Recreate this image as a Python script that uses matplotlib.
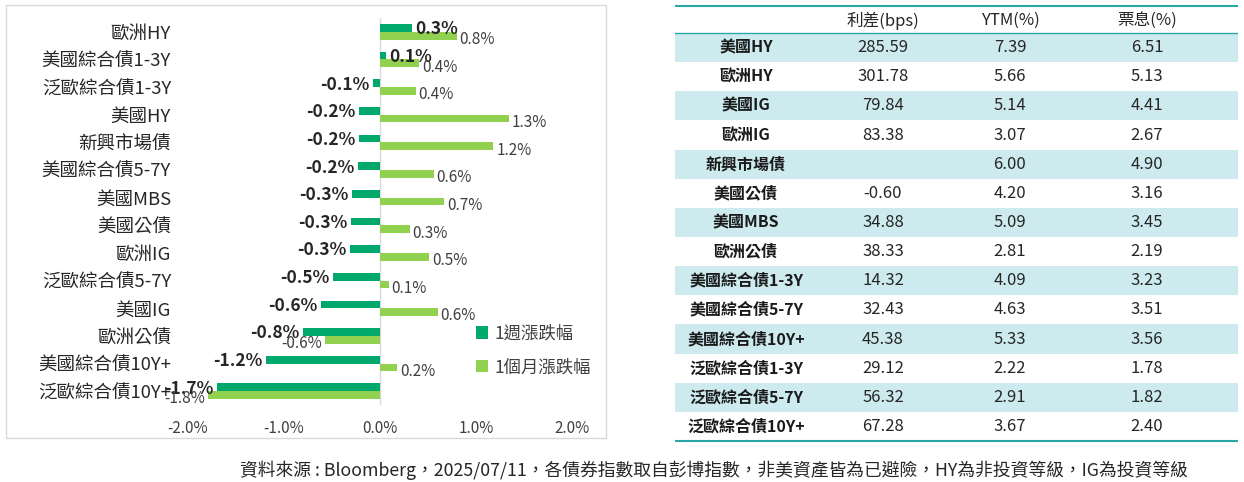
import matplotlib
matplotlib.use("Agg")
import matplotlib.pyplot as plt
from matplotlib.patches import Rectangle
from matplotlib.transforms import blended_transform_factory
import numpy as np

plt.rcParams['font.family'] = ['Noto Sans CJK TC', 'DejaVu Sans']

# ---------------- data ----------------
categories = ["歐洲HY", "美國綜合債1-3Y", "泛歐綜合債1-3Y", "美國HY", "新興市場債",
              "美國綜合債5-7Y", "美國MBS", "美國公債", "歐洲IG", "泛歐綜合債5-7Y",
              "美國IG", "歐洲公債", "美國綜合債10Y+", "泛歐綜合債10Y+"]
week_chg = [0.33, 0.06, -0.07, -0.22, -0.22, -0.23, -0.29, -0.30, -0.31, -0.49,
            -0.61, -0.80, -1.19, -1.70]
month_chg = [0.80, 0.41, 0.37, 1.34, 1.18, 0.56, 0.67, 0.31, 0.51, 0.09,
             0.60, -0.57, 0.18, -1.79]
x_ticks = [-2.0, -1.0, 0.0, 1.0, 2.0]
series_names = ["1週漲跌幅", "1個月漲跌幅"]

table_cols = ["利差(bps)", "YTM(%)", "票息(%)"]
table_rows = ["美國HY", "歐洲HY", "美國IG", "歐洲IG", "新興市場債", "美國公債", "美國MBS",
              "歐洲公債", "美國綜合債1-3Y", "美國綜合債5-7Y", "美國綜合債10Y+",
              "泛歐綜合債1-3Y", "泛歐綜合債5-7Y", "泛歐綜合債10Y+"]
spread = ["285.59", "301.78", "79.84", "83.38", "", "-0.60", "34.88", "38.33",
          "14.32", "32.43", "45.38", "29.12", "56.32", "67.28"]
ytm = ["7.39", "5.66", "5.14", "3.07", "6.00", "4.20", "5.09", "2.81",
       "4.09", "4.63", "5.33", "2.22", "2.91", "3.67"]
coupon = ["6.51", "5.13", "4.41", "2.67", "4.90", "3.16", "3.45", "2.19",
          "3.23", "3.51", "3.56", "1.78", "1.82", "2.40"]

source = "資料來源 : Bloomberg，2025/07/11，各債券指數取自彭博指數，非美資產皆為已避險，HY為非投資等級，IG為投資等級"

DARK = "#00A86B"
LIGHT = "#92D050"
TEAL = "#2AA8A8"
ROWBG = "#CDEBEE"

W, H = 1244, 482
fig = plt.figure(figsize=(W / 100, H / 100), dpi=100)

# box around the chart
fig.patches.append(Rectangle((6 / W, 1 - 438 / H), 600 / W, 433 / H, transform=fig.transFigure,
                             fill=False, edgecolor="#d9d9d9", linewidth=1))

# ---------------- bar chart ----------------
ax = fig.add_axes([188 / W, 1 - 405 / H, 384 / W, 387 / H])
y = np.arange(len(categories))
bh = 0.28
ax.barh(y - bh / 2, week_chg, height=bh, color=DARK, label=series_names[0])
ax.barh(y + bh / 2, month_chg, height=bh, color=LIGHT, label=series_names[1])
ax.set_xlim(-2, 2)
ax.set_ylim(len(categories) - 0.5, -0.5)
ax.axvline(0, color="#d9d9d9", linewidth=1, zorder=0)
for s in ax.spines.values():
    s.set_visible(False)
ax.set_xticks(x_ticks)
ax.set_xticklabels([f"{t:.1f}%" for t in x_ticks], fontsize=11, color="#404040")
ax.tick_params(axis="x", length=0, pad=11)
ax.set_yticks([])

lab_tr = blended_transform_factory(fig.transFigure, ax.transData)
for i, lab in enumerate(categories):
    ax.text(171 / W, i + 0.08, lab, transform=lab_tr, ha="right", va="center",
            fontsize=13.3, color="#262626")

for i, v in enumerate(week_chg):
    off = 0.04 if v >= 0 else -0.04
    ax.text(v + off, i - bh / 2 + 0.05, f"{v:.1f}%", ha="left" if v >= 0 else "right",
            va="center", fontsize=12.5, fontweight="bold", color="#262626")
for i, v in enumerate(month_chg):
    off = 0.03 if v >= 0 else -0.03
    ax.text(v + off, i + bh / 2 + 0.14, f"{v:.1f}%", ha="left" if v >= 0 else "right",
            va="center", fontsize=11, color="#404040")

ax.legend(loc="upper left", bbox_to_anchor=(460 / W, 1 - 309 / H), bbox_transform=fig.transFigure,
          frameon=False, fontsize=12.5, handlelength=0.7, handleheight=0.7, handletextpad=0.4,
          labelspacing=0.9, labelcolor="#404040")

# ---------------- table ----------------
tx = fig.add_axes([675 / W, 0, (1238 - 675) / W, 1])
tx.set_xlim(675, 1238)
tx.set_ylim(H, 0)
tx.axis("off")

top, head_bot = 6, 33
row_h = (441 - head_bot) / len(table_rows)
col_x = [746, 883, 1010, 1147]

for j, c in enumerate(table_cols):
    tx.text(col_x[j + 1], (top + head_bot) / 2 + 1, c, ha="center", va="center",
            fontsize=12, color="#262626")
for i, name in enumerate(table_rows):
    y0 = head_bot + i * row_h
    if i % 2 == 0:
        tx.add_patch(Rectangle((675, y0), 563, row_h, facecolor=ROWBG, edgecolor="none"))
    yc = y0 + row_h / 2
    tx.text(col_x[0], yc, name, ha="center", va="center", fontsize=11.5,
            fontweight="bold", color="#1a1a1a")
    for j, vals in enumerate([spread, ytm, coupon]):
        tx.text(col_x[j + 1], yc, vals[i], ha="center", va="center", fontsize=12, color="#262626")

tx.plot([675, 1238], [top, top], color=TEAL, linewidth=1.5)
tx.plot([675, 1238], [head_bot, head_bot], color=TEAL, linewidth=1)
tx.plot([675, 1238], [441, 441], color=TEAL, linewidth=1.5)

fig.text(240 / W, 1 - 470 / H, source, ha="left", va="center", fontsize=12.8, color="#262626")

fig.savefig("out.png", dpi=100)
